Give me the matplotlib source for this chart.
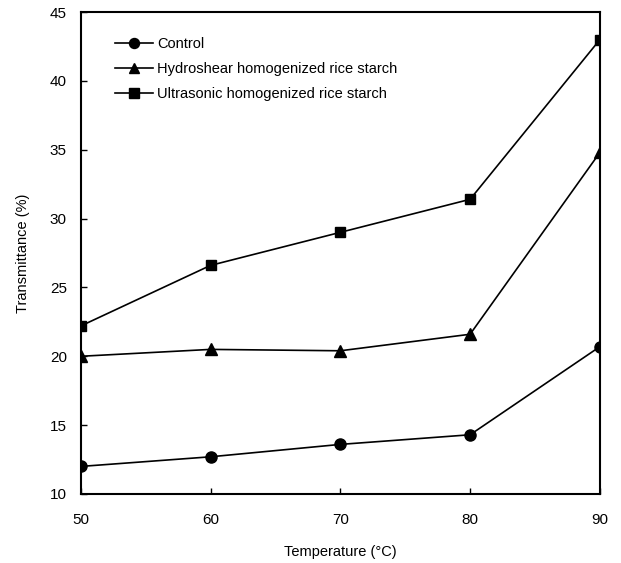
import numpy as np
from matplotlib import pyplot as plt

plt.rcParams['font.family'] = ['Liberation Sans', 'DejaVu Sans']

# Dados
temperatura = [50, 60, 70, 80, 90]
controle = [12.0, 12.7, 13.6, 14.3, 20.7]
hidroshear = [20.0, 20.5, 20.4, 21.6, 34.8]
ultrassom = [22.2, 26.6, 29.0, 31.4, 43.0]

f = plt.figure(figsize=(6.21, 5.63), dpi=100)
ax = f.add_axes([0.130, 0.1226, 0.836, 0.856])

ax.plot(temperatura, controle, 'k-', marker='o', ms=8, lw=1.2, label='Control')
ax.plot(temperatura, hidroshear, 'k-', marker='^', ms=8, lw=1.2,
        label='Hydroshear homogenized rice starch')
ax.plot(temperatura, ultrassom, 'k-', marker='s', ms=7.5, lw=1.2,
        label='Ultrasonic homogenized rice starch')

ax.set_xlim(50, 90)
ax.set_ylim(10, 45)
ax.set_xticks(np.arange(50, 91, 10))
ax.set_yticks(np.arange(10, 46, 5))
ax.tick_params(direction='in', length=4, width=1, labelsize=11, pad=10)
ax.tick_params(axis='x', pad=14)
for s in ax.spines.values():
    s.set_linewidth(1.5)

ax.set_xlabel('Temperature (°C)', fontsize=10.5, labelpad=13)
ax.set_ylabel('Transmittance (%)', fontsize=10.5, labelpad=14)

ax.legend(loc='upper left', bbox_to_anchor=(0.04, 0.975), frameon=False, fontsize=10.5,
          handlelength=2.6, handletextpad=0.3, labelspacing=0.75, markerscale=0.9)

f.savefig('out.png', dpi=100)
